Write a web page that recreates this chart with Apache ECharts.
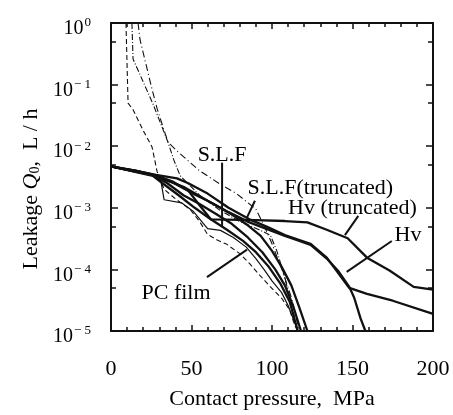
<!DOCTYPE html>
<html>
<head>
<meta charset="utf-8">
<script src="https://cdn.jsdelivr.net/npm/echarts@6/dist/echarts.min.js"></script>
<style>html,body{margin:0;padding:0;background:#fff}#c{width:453px;height:415px}</style>
</head>
<body>
<div id="c"></div>
<script>
// ---- data (contact pressure MPa, leakage L/h) ----
const hvTruncP = [0, 15, 26, 38, 48, 55, 62, 90, 108, 122, 134, 147, 159, 173, 188, 200];
const hvTruncQ = [4.7e-3, 4.0e-3, 3.5e-3, 2.7e-3, 1.9e-3, 1.1e-3, 6.5e-4, 6.3e-4, 6.1e-4, 5.8e-4, 4.4e-4, 3.2e-4, 1.55e-4, 9.6e-5, 5.2e-5, 4.7e-5];

const hvP = [0, 15, 26, 41, 48, 60, 73, 86, 97, 108, 117, 124, 134, 140, 148, 159, 175, 200];
const hvQ = [4.7e-3, 4.0e-3, 3.5e-3, 3.0e-3, 2.5e-3, 1.7e-3, 1.0e-3, 6.5e-4, 4.9e-4, 3.6e-4, 3.0e-4, 2.6e-4, 1.55e-4, 9.6e-5, 5.0e-5, 4.0e-5, 3.1e-5, 1.9e-5];

const hvBP = [0, 26, 45, 60, 73, 86, 97, 108, 117, 124, 134, 141, 148, 151, 155, 158];
const hvBQ = [4.7e-3, 3.4e-3, 2.2e-3, 1.3e-3, 8.5e-4, 5.8e-4, 4.5e-4, 3.5e-4, 2.9e-4, 2.5e-4, 1.5e-4, 9.5e-5, 5.2e-5, 3.5e-5, 1.6e-5, 1e-5];

const slfTruncP = [0, 26, 38, 51, 60, 68, 76, 85, 93, 100, 106, 112, 117, 122];
const slfTruncQ = [4.7e-3, 3.4e-3, 2.6e-3, 1.7e-3, 1.3e-3, 1.0e-3, 7.5e-4, 5.2e-4, 3.5e-4, 2.0e-4, 1.1e-4, 5.5e-5, 2.4e-5, 1e-5];

const slfP = [0, 26, 35, 45, 55, 65, 75, 85, 94, 102, 108, 113, 118];
const slfQ = [4.7e-3, 3.4e-3, 2.5e-3, 1.6e-3, 1.15e-3, 8e-4, 5.5e-4, 3.3e-4, 1.9e-4, 1.0e-4, 5.5e-5, 2.6e-5, 1e-5];

const pcP = [0, 26, 32, 42, 52, 62, 72, 82, 90, 98, 105, 111, 116];
const pcQ = [4.7e-3, 3.3e-3, 2.5e-3, 1.6e-3, 1.0e-3, 6.5e-4, 4.4e-4, 2.9e-4, 1.9e-4, 1.1e-4, 6e-5, 3e-5, 1e-5];

const pcThinP = [0, 15, 26, 31, 32, 33, 44, 51, 60, 68, 76, 84, 90, 95, 100, 106, 110, 114, 116];
const pcThinQ = [4.7e-3, 4.1e-3, 3.5e-3, 2.7e-3, 1.9e-3, 1.35e-3, 1.2e-3, 8.8e-4, 4.6e-4, 4.3e-4, 3.3e-4, 2.3e-4, 1.5e-4, 1.0e-4, 6.5e-5, 4.2e-5, 2.6e-5, 1.4e-5, 1e-5];

const dashAP = [9.3, 10.6, 13.7, 20, 25.5, 28.6, 33, 40, 49, 55, 60, 66, 72, 80, 86, 92.5, 99, 106, 111, 114, 116];
const dashAQ = [1, 0.05, 0.039, 0.018, 0.0097, 3.9e-3, 2.0e-3, 1.4e-3, 9.5e-4, 6.0e-4, 3.7e-4, 3.0e-4, 2.55e-4, 1.8e-4, 1.25e-4, 8e-5, 5.2e-5, 3.4e-5, 2.2e-5, 1.25e-5, 1e-5];

const dashBP = [13, 13.7, 26, 35.4, 39, 43, 55, 68, 80, 92, 99, 103, 107, 111, 115.5];
const dashBQ = [1, 0.26, 0.049, 0.0116, 6e-3, 3.3e-3, 1.6e-3, 9e-4, 6.0e-4, 4.4e-4, 3.6e-4, 2.0e-4, 9e-5, 3.6e-5, 1.1e-5];

const dashCP = [16.8, 18, 25.5, 28.6, 35.4, 43, 55, 68, 78, 90, 95, 100, 107, 112, 117];
const dashCQ = [1, 0.54, 0.084, 0.041, 0.0116, 7.5e-3, 4.0e-3, 2.4e-3, 1.7e-3, 9.5e-4, 5.2e-4, 2.6e-4, 8.7e-5, 3.5e-5, 1e-5];

// annotation texts and pointer lines (data coordinates)
const noteTexts = ['S.L.F', 'S.L.F(truncated)', 'Hv (truncated)', 'Hv', 'PC film'];
const noteP = [69, 130, 150, 184.5, 40.4];
const noteQ = [8.7e-3, 2.46e-3, 1.2e-3, 4.4e-4, 5.0e-5];
const pointerFromP = [69, 89.4, 153.6, 174.4, 59.6];
const pointerFromQ = [5.4e-3, 1.3e-3, 7.4e-4, 2.89e-4, 7.5e-5];
const pointerToP = [69, 84.5, 145.3, 146.4, 84.5];
const pointerToQ = [4.9e-4, 7.0e-4, 3.6e-4, 9.1e-5, 2.1e-4];

const xTicksMajor = [0, 50, 100, 150, 200];
const yDecades = [1e-5, 1e-4, 1e-3, 1e-2, 1e-1, 1];
const yMinor = [5e-5, 5e-4, 5e-3, 5e-2, 5e-1];

// ---- build ----
const zip = (p, q) => p.map((v, i) => [v, q[i]]);
const FONT = '"Liberation Serif", "DejaVu Serif", serif';
const INK = '#111';
const FS = 22;

function curve(p, q, width, type) {
  return {
    type: 'line', data: zip(p, q), symbol: 'none', silent: true, clip: true,
    lineStyle: { color: INK, width: width, type: type || 'solid' }
  };
}

const series = [
  curve(hvTruncP, hvTruncQ, 2.3),
  curve(hvP, hvQ, 2.3),
  curve(hvBP, hvBQ, 2.3),
  curve(slfTruncP, slfTruncQ, 2.3),
  curve(slfP, slfQ, 2.3),
  curve(pcP, pcQ, 2.3),
  curve(pcThinP, pcThinQ, 1.2),
  curve(dashAP, dashAQ, 1.1, [5, 3]),
  curve(dashBP, dashBQ, 1.1, [6, 2, 1, 2]),
  curve(dashCP, dashCQ, 1.1, [7, 3, 1, 3])
];

for (let i = 0; i < pointerFromP.length; i++) {
  series.push({
    type: 'line', symbol: 'none', silent: true,
    data: [[pointerFromP[i], pointerFromQ[i]], [pointerToP[i], pointerToQ[i]]],
    lineStyle: { color: INK, width: 2 }
  });
}

series.push({
  type: 'scatter', symbolSize: 1, silent: true,
  itemStyle: { color: 'rgba(0,0,0,0)', opacity: 1 },
  data: noteTexts.map((t, i) => ({ value: [noteP[i], noteQ[i]], name: t })),
  label: {
    show: true, position: 'inside', offset: [0, 5], formatter: p => p.name, opacity: 1,
    fontFamily: FONT, fontSize: FS, color: '#000'
  }
});

function yLabel(v) {
  const e = Math.round(Math.log10(v));
  return '{b|10}{e|' + (e === 0 ? '0' : '\u2212 ' + (-e)) + '}';
}

const yBase = {
  type: 'log', logBase: 10, min: 1e-5, max: 1,
  splitLine: { show: false }, minorTick: { show: false }
};

const option = {
  animation: false,
  backgroundColor: '#fff',
  grid: { left: 111, right: 20, top: 23, bottom: 72 },
  xAxis: [
    {
      type: 'value', min: 0, max: 200, interval: 50, position: 'bottom',
      axisLine: { lineStyle: { color: INK, width: 2 } },
      axisTick: { inside: true, length: 6, lineStyle: { color: INK, width: 1.5 } },
      minorTick: { show: true, splitNumber: 5, length: 4, lineStyle: { color: INK, width: 1.5 } },
      splitLine: { show: false },
      axisLabel: { fontFamily: FONT, fontSize: FS, color: '#000', margin: 27,
        customValues: xTicksMajor },
      name: 'Contact pressure,  MPa', nameLocation: 'middle', nameGap: 57,
      nameTextStyle: { fontFamily: FONT, fontSize: FS, color: '#000' }
    },
    {
      type: 'value', min: 0, max: 200, interval: 50, position: 'top',
      axisLine: { lineStyle: { color: INK, width: 2 } },
      axisTick: { inside: true, length: 6, lineStyle: { color: INK, width: 1.5 } },
      minorTick: { show: true, splitNumber: 5, length: 4, lineStyle: { color: INK, width: 1.5 } },
      splitLine: { show: false }, axisLabel: { show: false }
    }
  ],
  yAxis: [
    Object.assign({}, yBase, {
      position: 'left',
      axisLine: { lineStyle: { color: INK, width: 2 } },
      axisTick: { inside: true, length: 7, customValues: yDecades, lineStyle: { color: INK, width: 1.5 } },
      axisLabel: {
        customValues: yDecades, formatter: yLabel, margin: 20, color: '#000',
        padding: [12, 0, 0, 0],
        rich: {
          b: { fontFamily: FONT, fontSize: 20, color: '#000' },
          e: { fontFamily: FONT, fontSize: 13, color: '#000', verticalAlign: 'top', padding: [0, 0, 12, 1] }
        }
      },
      name: 'Leakage {i|Q}{s|0},  L / h', nameLocation: 'middle', nameGap: 69,
      nameTextStyle: {
        fontFamily: FONT, fontSize: FS, color: '#000', padding: [0, 24, 0, 0],
        rich: {
          i: { fontFamily: FONT, fontSize: FS, fontStyle: 'italic', color: '#000' },
          s: { fontFamily: FONT, fontSize: 14, color: '#000', verticalAlign: 'bottom', padding: [8, 0, 0, 0] }
        }
      }
    }),
    Object.assign({}, yBase, {
      position: 'left', axisLine: { show: false },
      axisTick: { inside: true, length: 5, customValues: yMinor, lineStyle: { color: INK, width: 1.5 } },
      axisLabel: { show: false }
    }),
    Object.assign({}, yBase, {
      position: 'right',
      axisLine: { lineStyle: { color: INK, width: 2 } },
      axisTick: { inside: true, length: 7, customValues: yDecades, lineStyle: { color: INK, width: 1.5 } },
      axisLabel: { show: false }
    }),
    Object.assign({}, yBase, {
      position: 'right', axisLine: { show: false },
      axisTick: { inside: true, length: 5, customValues: yMinor, lineStyle: { color: INK, width: 1.5 } },
      axisLabel: { show: false }
    })
  ],
  series: series
};

const chart = echarts.init(document.getElementById('c'), null, { renderer: 'canvas' });
chart.setOption(option);
</script>
</body>
</html>
